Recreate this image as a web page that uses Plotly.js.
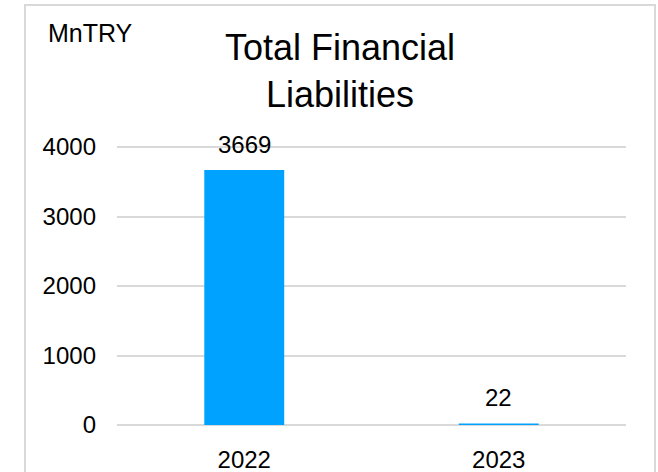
<!DOCTYPE html>
<html>
<head>
<meta charset="utf-8">
<script src="https://cdn.plot.ly/plotly-3.0.1.min.js"></script>
<style>
html,body{margin:0;padding:0;background:#fff;}
#chart{width:658px;height:472px;}
</style>
</head>
<body>
<div id="chart"></div>
<script>
const categories = ["2022", "2023"];
const values = [3669, 22];
const labels = ["3669", "22"];
const yTicks = [0, 1000, 2000, 3000, 4000];
const titleText = "Total Financial<br>Liabilities";
const unitText = "MnTRY";

const W = 658, H = 472;
const M = {l: 117, r: 32, t: 141, b: 47};
const pw = W - M.l - M.r, ph = H - M.t - M.b;
const FONT = "Liberation Sans, Arial, sans-serif";
// top of y range chosen so the 4000 gridline sits 6px below the plot top edge
const yTop = 4000 * ph / (ph - 6);

const trace = {
  type: "bar",
  x: categories,
  y: values,
  width: 0.314,
  marker: {color: "#00a2ff"},
  hoverinfo: "none"
};

const annotations = categories.map((c, i) => ({
  x: i, y: values[i], xref: "x", yref: "y",
  text: labels[i], showarrow: false,
  yanchor: "bottom", yshift: 10,
  font: {family: FONT, size: 24, color: "#000"}
}));
annotations.push({
  xref: "paper", yref: "paper",
  x: (46 - M.l) / pw, y: (H - M.b - 49) / ph,
  xanchor: "left", yanchor: "bottom",
  text: unitText, showarrow: false,
  font: {family: FONT, size: 25, color: "#000"}
});

const layout = {
  width: W, height: H,
  margin: M,
  paper_bgcolor: "#fff",
  plot_bgcolor: "#fff",
  showlegend: false,
  font: {family: FONT, size: 24, color: "#000"},
  title: {
    text: titleText,
    font: {family: FONT, size: 36, color: "#000"},
    xref: "container", yref: "container",
    x: 340 / W, xanchor: "center",
    y: 1 - 60 / H, yanchor: "top"
  },
  xaxis: {
    type: "category",
    range: [-0.5, 1.5],
    showgrid: false,
    showline: false,
    zeroline: false,
    ticks: "",
    ticklabelstandoff: 18,
    tickfont: {family: FONT, size: 24, color: "#000"}
  },
  yaxis: {
    range: [0, yTop],
    tickvals: yTicks,
    ticktext: yTicks.map(String),
    showgrid: true,
    gridcolor: "#d9d9d9",
    gridwidth: 2,
    zeroline: true,
    zerolinecolor: "#d9d9d9",
    zerolinewidth: 2,
    showline: false,
    ticks: "",
    ticklabelstandoff: 20,
    tickfont: {family: FONT, size: 24, color: "#000"}
  },
  shapes: [{
    type: "rect", xref: "paper", yref: "paper",
    x0: (25 - M.l) / pw, x1: (655 - M.l) / pw,
    y0: (H - M.b - 490) / ph, y1: (H - M.b - 5) / ph,
    line: {color: "#d9d9d9", width: 2},
    fillcolor: "rgba(0,0,0,0)",
    layer: "below"
  }],
  annotations: annotations
};

Plotly.newPlot("chart", [trace], layout, {displayModeBar: false, staticPlot: true});
</script>
</body>
</html>
